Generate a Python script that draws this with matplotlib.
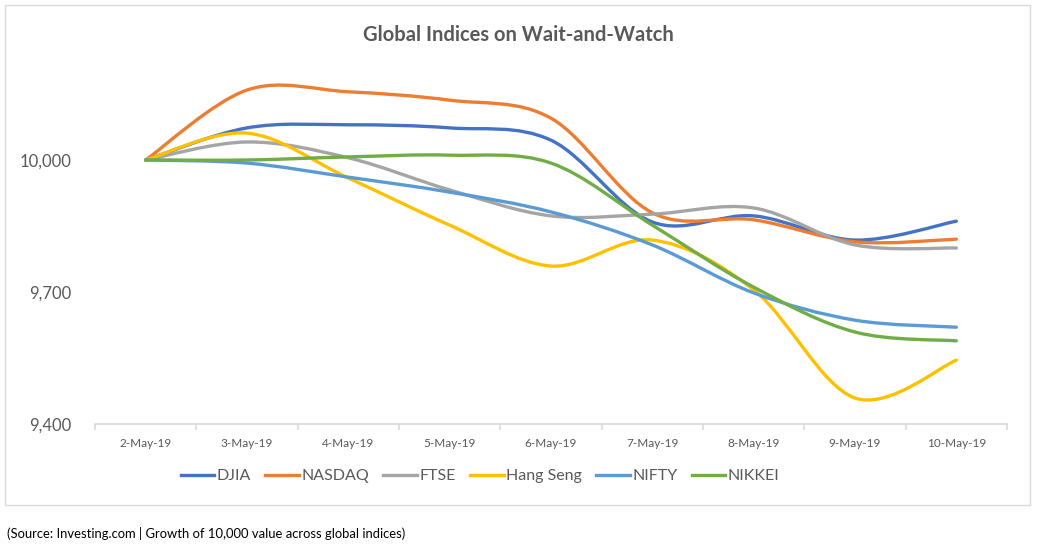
import numpy as np
import matplotlib.pyplot as plt
from matplotlib.path import Path
from matplotlib.patches import PathPatch, Rectangle
from matplotlib.lines import Line2D

plt.rcParams['font.family'] = ['Lato', 'DejaVu Sans']

dates = ["2-May-19", "3-May-19", "4-May-19", "5-May-19", "6-May-19",
         "7-May-19", "8-May-19", "9-May-19", "10-May-19"]

djia = [10000, 10073, 10080, 10073, 10045, 9859, 9873, 9818, 9861]
nasdaq = [10000, 10159, 10155, 10136, 10095, 9880, 9864, 9814, 9820]
ftse = [10000, 10041, 10005, 9932, 9873, 9877, 9891, 9807, 9800]
hang_seng = [10000, 10061, 9959, 9852, 9759, 9818, 9705, 9459, 9545]
nifty = [10000, 9993, 9961, 9927, 9882, 9807, 9698, 9636, 9620]
nikkei = [10000, 10000, 10007, 10011, 9993, 9852, 9711, 9609, 9589]

series = [("DJIA", djia, "#4472c4"), ("NASDAQ", nasdaq, "#ed7d31"),
          ("FTSE", ftse, "#a5a5a5"), ("Hang Seng", hang_seng, "#ffc000"),
          ("NIFTY", nifty, "#5b9bd5"), ("NIKKEI", nikkei, "#70ad47")]


def smooth_path(xs, ys):
    # Excel-style smoothed line: cubic bezier through each point
    pts = np.column_stack([xs, ys]).astype(float)
    n = len(pts)
    verts = [pts[0]]
    codes = [Path.MOVETO]
    for i in range(n - 1):
        p0 = pts[max(i - 1, 0)]
        p1 = pts[i]
        p2 = pts[i + 1]
        p3 = pts[min(i + 2, n - 1)]
        c1 = p1 + (p2 - p0) / 6.0
        c2 = p2 - (p3 - p1) / 6.0
        verts += [c1, c2, p2]
        codes += [Path.CURVE4] * 3
    return Path(verts, codes)


fig = plt.figure(figsize=(10.37, 5.48), dpi=100)
fig.patches.append(Rectangle((5 / 1037, 1 - 505 / 548), 1025 / 1037, 500 / 548,
                             transform=fig.transFigure, fill=False,
                             edgecolor="#d9d9d9", linewidth=1))

ax = fig.add_axes([95 / 1037, 1 - 424 / 548, 912 / 1037, 396 / 548])
x = np.arange(len(dates))
for name, vals, color in series:
    ax.add_patch(PathPatch(smooth_path(x, vals), fill=False, edgecolor=color,
                           linewidth=2.4, capstyle="round", joinstyle="round"))

ax.set_xlim(-0.5, len(dates) - 0.5)
ax.set_ylim(9400, 10300)
ax.set_yticks([9400, 9700, 10000])
ax.set_yticklabels([f"{v:,}" for v in [9400, 9700, 10000]])
ax.set_xticks(x)
ax.set_xticklabels(dates)
ax.set_xticks(np.arange(-0.5, len(dates), 1.0), minor=True)

for s in ["top", "right", "left"]:
    ax.spines[s].set_visible(False)
ax.spines["bottom"].set_color("#d9d9d9")
ax.spines["bottom"].set_linewidth(1.2)
ax.tick_params(axis="y", length=0, labelsize=12, labelcolor="#595959", pad=17)
ax.tick_params(axis="x", which="major", length=0, labelsize=8.5,
               labelcolor="#595959", pad=10)
ax.tick_params(axis="x", which="minor", length=4, color="#d9d9d9", width=1.2)

fig.text(0.5, 1 - 35 / 548, "Global Indices on Wait-and-Watch", ha="center",
         va="center", fontsize=14.5, fontweight="bold", color="#595959")

handles = [Line2D([], [], color=c, linewidth=2.4) for _, _, c in series]
fig.legend(handles, [n for n, _, _ in series], loc="center",
           bbox_to_anchor=(480 / 1037, 1 - 476 / 548), ncol=6, frameon=False,
           fontsize=11.5, labelcolor="#595959", handlelength=2.1,
           handletextpad=0.15, columnspacing=0.9)

fig.text(7 / 1037, 1 - 533 / 548,
         "(Source: Investing.com | Growth of 10,000 value across global indices)",
         ha="left", va="center", fontsize=9.4, color="#000000")

fig.savefig("out.png", dpi=100)
